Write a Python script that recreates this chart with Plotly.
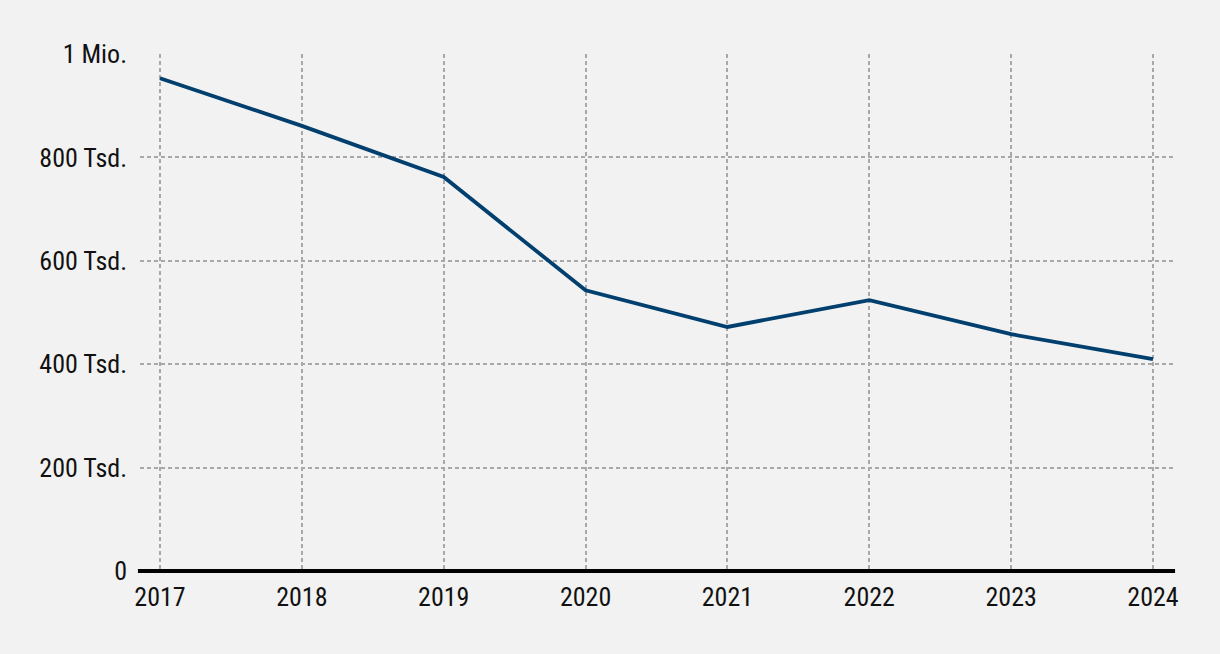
import plotly.graph_objects as go

years = [2017, 2018, 2019, 2020, 2021, 2022, 2023, 2024]
values = [953000, 861000, 762000, 543000, 472000, 524000, 458000, 410000]
y_tickvals = [0, 200000, 400000, 600000, 800000, 1000000]
y_ticktext = ["0", "200 Tsd.", "400 Tsd.", "600 Tsd.", "800 Tsd.", "1 Mio."]

FONT = "Roboto Condensed, Liberation Sans Narrow, Roboto, sans-serif"

fig = go.Figure()
fig.add_trace(go.Scatter(
    x=years, y=values, mode="lines",
    line=dict(color="#003f6e", width=3.8),
    hoverinfo="x+y",
))

fig.update_layout(
    width=1220, height=654,
    paper_bgcolor="#f2f2f2", plot_bgcolor="#f2f2f2",
    margin=dict(l=140, r=47, t=54, b=83),
    showlegend=False,
    font=dict(family=FONT, size=26, color="#111111"),
)
fig.update_xaxes(
    range=[2016.859, 2024.141],
    tickvals=years, ticktext=[str(y) for y in years],
    showgrid=True, gridcolor="#a8a8a8", griddash="4px,3px", gridwidth=2,
    zeroline=False, showline=False, ticks="", ticklen=0,
    ticklabelstandoff=8,
    tickfont=dict(family=FONT, size=26, color="#111111"),
)
fig.update_yaxes(
    range=[0, 1000000],
    tickvals=y_tickvals, ticktext=y_ticktext,
    showgrid=True, gridcolor="#a8a8a8", griddash="4px,3px", gridwidth=2,
    zeroline=False, showline=False, ticks="", ticklen=0,
    ticklabelstandoff=12,
    tickfont=dict(family=FONT, size=26, color="#111111"),
)
fig.add_shape(type="line", xref="paper", yref="paper", x0=-0.002, x1=1.002, y0=0, y1=0,
              line=dict(color="#000000", width=4), layer="above")

fig.write_html("out.html", config={"displayModeBar": False},
               post_script="document.body.style.margin='0';document.body.style.overflow='hidden';")
